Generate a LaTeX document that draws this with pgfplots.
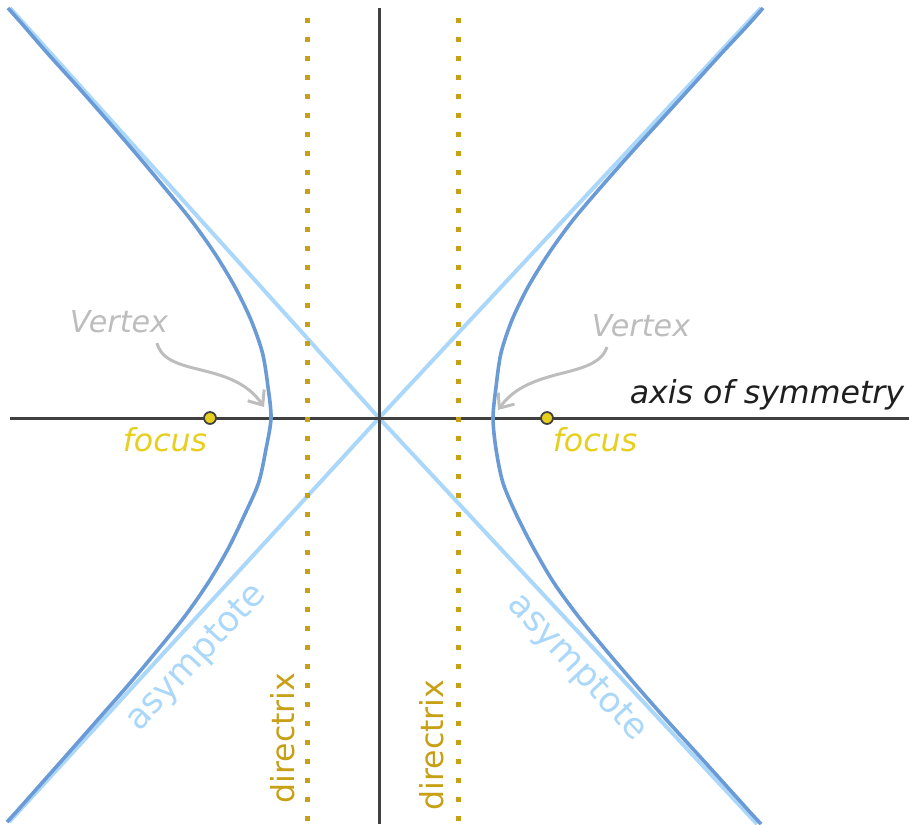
\documentclass[border=0pt]{standalone}
\usepackage{pgfplots}
\pgfplotsset{compat=1.18}
\usepackage{fontspec}
\setmainfont{DejaVu Sans}
\usetikzlibrary{arrows.meta}

\definecolor{hyp}{HTML}{6A9BD6}
\definecolor{asym}{HTML}{ABD8FA}
\definecolor{axisc}{HTML}{404040}
\definecolor{direc}{HTML}{C8A015}
\definecolor{focusc}{HTML}{E6CF1E}
\definecolor{vert}{HTML}{BDBDBD}

\begin{document}
\begin{tikzpicture}
\begin{axis}[
  name=ax,
  scale only axis,
  width=9.09cm, height=8.24cm,
  xmin=0, xmax=909, ymin=0, ymax=824,
  y dir=reverse,
  hide axis,
  clip=true,
]
% asymptotes
\addplot[asym, line width=0.04cm] coordinates {(10,8) (379,418) (757,824)};
\addplot[asym, line width=0.04cm] coordinates {(761,8) (379,418) (9,822)};

% axis of symmetry and conjugate axis
\addplot[axisc, line width=0.03cm] coordinates {(10,418) (909,418)};
\addplot[axisc, line width=0.03cm] coordinates {(379,8) (379,824)};

% directrices
\addplot[direc, line width=0.05cm, dash pattern=on 0.05cm off 0.14cm] coordinates {(307,17.5) (307,822.5)};
\addplot[direc, line width=0.05cm, dash pattern=on 0.05cm off 0.14cm] coordinates {(458,17.5) (458,822.5)};

% right branch
\addplot[hyp, line width=0.036cm, smooth] coordinates {
(763,8) (748,25) (720,55) (691,87) (661,120) (631,153) (601,187) (573,220)
(549,253) (528,287) (512,320) (501,353) (496,387) (493,418)
(496,449) (503,483) (517,516) (534,549) (554,583) (578,616) (605,649)
(634,683) (663,716) (693,749) (722,781) (749,811) (761,824)
};
% left branch
\addplot[hyp, line width=0.036cm, smooth] coordinates {
(8,8) (23,25) (49,55) (78,87) (107,120) (135.5,153) (164,187) (191,220)
(214.5,253) (235,287) (251,320) (262.5,353) (268,387) (271,418)
(266,449) (258.5,483) (244,516) (228,549) (208,583) (185,616) (158.5,649)
(130,683) (101,716) (72,749) (43.6,781) (17,811) (7,822)
};

% foci
\addplot[only marks, mark=*, mark size=1.7pt, mark options={fill=focusc, draw=axisc, line width=0.5pt}]
  coordinates {(210,418) (547,418)};

% labels
\node[text=vert, font=\fontsize{8.6}{10}\selectfont\itshape] at (119,322) {Vertex};
\node[text=vert, font=\fontsize{8.6}{10}\selectfont\itshape] at (641,326) {Vertex};
\node[text=focusc, font=\fontsize{9}{10}\selectfont\itshape] at (165,440) {focus};
\node[text=focusc, font=\fontsize{9}{10}\selectfont\itshape] at (595,440) {focus};
\node[text=black!88, font=\fontsize{9}{10}\selectfont\itshape] at (767,395) {axis of symmetry};
\node[text=direc, rotate=90, font=\fontsize{9}{10}\selectfont] at (283,738) {directrix};
\node[text=direc, rotate=90, font=\fontsize{9}{10}\selectfont] at (432,745) {directrix};
\node[text=asym, rotate=47, font=\fontsize{10}{11}\selectfont] at (197,658) {asymptote};
\node[text=asym, rotate=-47, font=\fontsize{10}{11}\selectfont] at (577,668) {asymptote};

% vertex arrows
\draw[vert, line width=0.03cm, -{Straight Barb[length=0.12cm, width=0.2cm]}]
  (157,343) .. controls (166,378) and (232,360) .. (264,407);
\draw[vert, line width=0.03cm, -{Straight Barb[length=0.12cm, width=0.2cm]}]
  (607,347) .. controls (596,380) and (530,365) .. (498,410);
\end{axis}
\pgfresetboundingbox
\useasboundingbox (ax.south west) rectangle (ax.north east);
\end{tikzpicture}
\end{document}
